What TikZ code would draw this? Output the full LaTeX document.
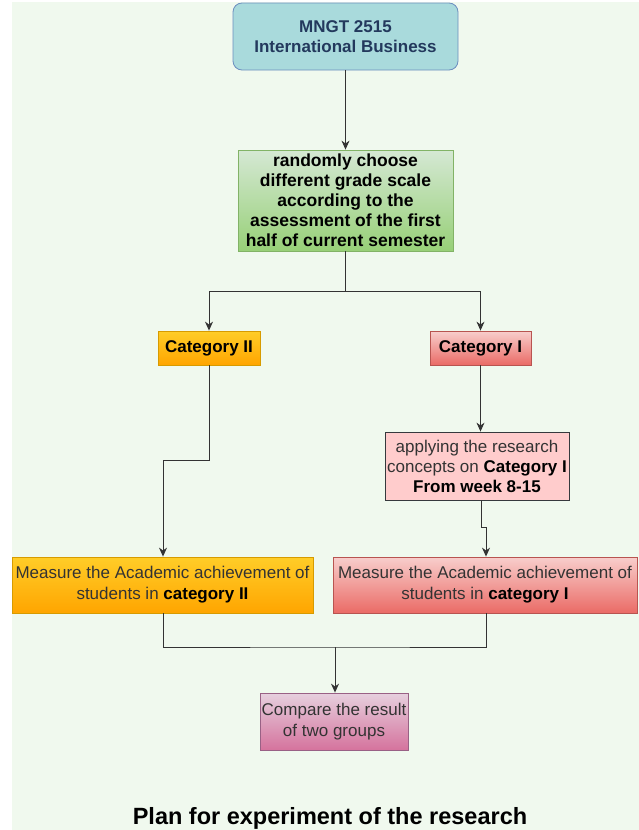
\documentclass[tikz,border=0pt]{standalone}
\usepackage{fontspec}
\setmainfont{Liberation Sans}
\usetikzlibrary{arrows.meta}
\definecolor{bgc}{HTML}{F0F9EE}
\definecolor{linec}{HTML}{333333}
\definecolor{txtgrey}{HTML}{333333}
\definecolor{navy}{HTML}{23395D}
\definecolor{tealfill}{HTML}{A9DADC}
\definecolor{tealdraw}{HTML}{6C8EBF}
\definecolor{greentop}{HTML}{D5E8D4}
\definecolor{greenbot}{HTML}{97D077}
\definecolor{greendraw}{HTML}{82B366}
\definecolor{orangetop}{HTML}{FFCD28}
\definecolor{orangebot}{HTML}{FFA500}
\definecolor{orangedraw}{HTML}{D79B00}
\definecolor{redtop}{HTML}{F8CECC}
\definecolor{redbot}{HTML}{EA6B66}
\definecolor{reddraw}{HTML}{B85450}
\definecolor{pinkfill}{HTML}{FFCCCC}
\definecolor{pinkdraw}{HTML}{36393D}
\definecolor{magtop}{HTML}{E6D0DE}
\definecolor{magbot}{HTML}{D5739D}
\definecolor{magdraw}{HTML}{996185}
\tikzset{
  box/.style={draw, line width=0.8pt, align=center, inner sep=0pt, font=\fontsize{17}{21}\selectfont},
  conn/.style={draw=linec, line width=1pt},
  arr/.style={conn, -{Stealth[length=9pt,width=8pt]}},
  orangebox/.style={box, top color=orangetop, bottom color=orangebot, draw=orangedraw},
  redbox/.style={box, top color=redtop, bottom color=redbot, draw=reddraw},
}
\begin{document}
\begin{tikzpicture}[x=1pt,y=-1pt]
\useasboundingbox (0,0) rectangle (639,830);
\fill[bgc] (12,2) rectangle (639,830);
% nodes
\node[box, rounded corners=9pt, fill=tealfill, draw=tealdraw, text=navy, font=\bfseries\fontsize{17}{20}\selectfont,
  minimum width=225pt, minimum height=67pt] (top) at (345.5,36.5) {MNGT 2515\\International Business};
\node[box, top color=greentop, bottom color=greenbot, draw=greendraw, font=\bfseries\fontsize{17.5}{20}\selectfont,
  minimum width=215pt, minimum height=101pt] (green) at (345.5,200.5)
  {randomly choose\\different grade scale\\according to the\\assessment of the first\\half of current semester};
\node[orangebox, font=\bfseries\fontsize{17}{20}\selectfont, minimum width=102pt, minimum height=34pt] (cat2) at (209,348) {Category II};
\node[redbox, font=\bfseries\fontsize{17}{20}\selectfont, minimum width=101pt, minimum height=34pt] (cat1) at (480.5,348) {Category I};
\node[box, fill=pinkfill, draw=pinkdraw, text=txtgrey, font=\fontsize{17}{20}\selectfont, minimum width=184pt, minimum height=68pt] (apply) at (477,466)
  {applying the research\\concepts on \textbf{\color{black}Category I}\\\textbf{\color{black}From week 8-15}};
\node[orangebox, text=txtgrey, minimum width=301pt, minimum height=56pt] (meas2) at (162.5,585)
  {Measure the Academic achievement of\\students in \textbf{\color{black}category II}};
\node[redbox, text=txtgrey, minimum width=304pt, minimum height=56pt] (meas1) at (485,585)
  {Measure the Academic achievement of\\students in \textbf{\color{black}category I}};
\node[box, top color=magtop, bottom color=magbot, draw=magdraw, text=txtgrey, minimum width=148pt, minimum height=57pt] (cmp) at (334,721.5)
  {Compare the result\\of two groups};
\node[font=\bfseries\fontsize{23.5}{28}\selectfont, inner sep=0pt] (title) at (330,818) {Plan for experiment of the research};
% connectors
\coordinate (split) at (345.5,291);
\coordinate (bend2) at (209,460);
\coordinate (bend2b) at (163,460);
\coordinate (jog1) at (481,527);
\coordinate (jog1b) at (486,527);
\coordinate (join) at (335,647);
\draw[arr] (top.south) -- (green.north);
\draw[arr] (green.south) -- (split) -| (cat2.north);
\draw[arr] (split) -| (cat1.north);
\draw[arr] (cat2.south) -- (bend2) -- (bend2b) -- (bend2b |- meas2.north);
\draw[arr] (cat1.south) -- (cat1.south |- apply.north);
\draw[arr] (jog1 |- apply.south) -- (jog1) -- (jog1b) -- (jog1b |- meas1.north);
\draw[conn] (meas2.south -| bend2b) |- (join) -| (meas1.south -| jog1b);
\draw[arr] (join) -- (join |- cmp.north);
\end{tikzpicture}
\end{document}
